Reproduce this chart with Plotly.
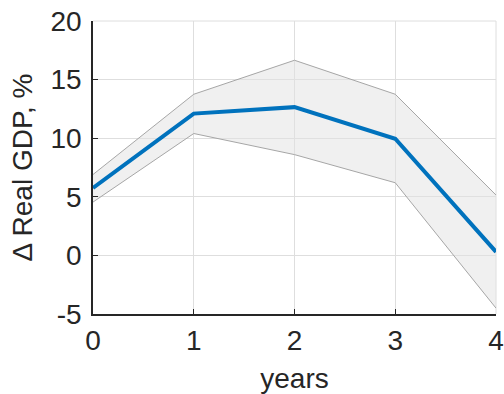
import plotly.graph_objects as go

# Horizon (years) and response of real GDP (%), with confidence band
years = [0, 1, 2, 3, 4]
gdp_mean = [5.75, 12.1, 12.65, 9.95, 0.3]
gdp_upper = [6.9, 13.75, 16.65, 13.75, 5.15]
gdp_lower = [4.55, 10.4, 8.6, 6.2, -4.5]

x_ticks = [0, 1, 2, 3, 4]
y_ticks = [-5, 0, 5, 10, 15, 20]
y_tick_text = ["-5", "0", "5", "10", "15", "20"]

FONT = "Liberation Sans, Arial, sans-serif"
FS = 28
GRID = "#dedede"
AXIS = "#262626"
TEXT = "#262626"

fig = go.Figure()

# Confidence band: lower edge, then upper edge filled down to it
fig.add_trace(go.Scatter(
    x=years, y=gdp_lower, mode="lines",
    line=dict(color="#a6a6a6", width=1),
    hoverinfo="skip", showlegend=False,
))
fig.add_trace(go.Scatter(
    x=years, y=gdp_upper, mode="lines",
    line=dict(color="#a6a6a6", width=1),
    fill="tonexty", fillcolor="rgba(225,225,225,0.5)",
    hoverinfo="skip", showlegend=False,
))
# Point estimate
fig.add_trace(go.Scatter(
    x=years, y=gdp_mean, mode="lines",
    line=dict(color="#0072BD", width=4),
    showlegend=False,
))

# Light frame on the top and right edges (grid-coloured)
fig.add_shape(type="line", xref="paper", yref="paper", x0=0, x1=1, y0=1, y1=1,
              line=dict(color=GRID, width=1), layer="below")
fig.add_shape(type="line", xref="paper", yref="paper", x0=1, x1=1, y0=0, y1=1,
              line=dict(color=GRID, width=1), layer="below")

fig.update_xaxes(
    range=[0, 4], tickvals=x_ticks, automargin=False,
    showgrid=True, gridcolor=GRID, gridwidth=1, zeroline=False,
    showline=True, linecolor=AXIS, linewidth=1.5,
    ticks="inside", ticklen=5, tickcolor=AXIS,
    ticklabelstandoff=1,
    tickfont=dict(family=FONT, size=FS, color=TEXT),
    title=dict(text="years", font=dict(family=FONT, size=FS, color=TEXT), standoff=17),
)
fig.update_yaxes(
    range=[-5, 20], tickvals=y_ticks, ticktext=y_tick_text, automargin=False,
    showgrid=True, gridcolor=GRID, gridwidth=1, zeroline=False,
    showline=True, linecolor=AXIS, linewidth=1.5,
    ticks="inside", ticklen=5, tickcolor=AXIS,
    ticklabelstandoff=4,
    tickfont=dict(family=FONT, size=FS, color=TEXT),
    title=dict(text="Δ Real GDP, %", font=dict(family=FONT, size=FS, color=TEXT), standoff=10),
)

fig.update_layout(
    width=504, height=394,
    margin=dict(l=93, r=8, t=21, b=80),
    plot_bgcolor="white", paper_bgcolor="white",
)

fig.write_html("out.html")
